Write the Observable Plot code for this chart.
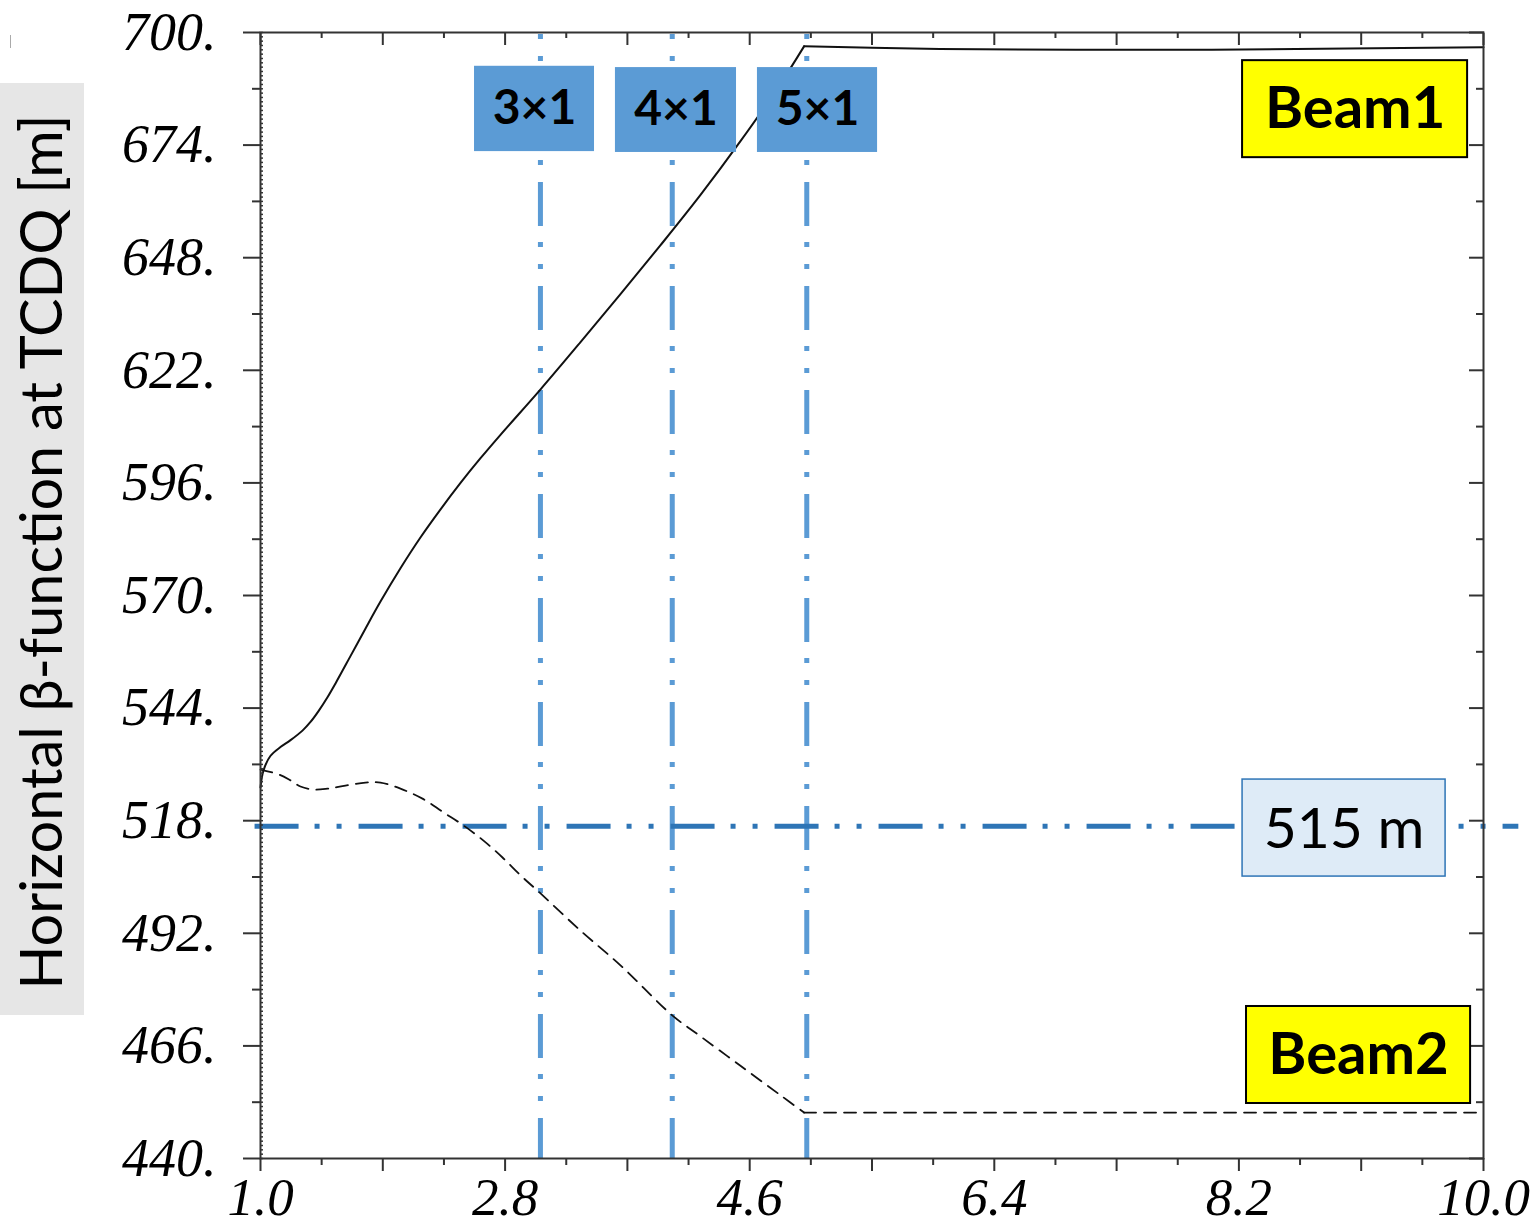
<!DOCTYPE html>
<html><head><meta charset="utf-8">
<script src="https://cdn.jsdelivr.net/npm/d3@7"></script>
<script src="https://cdn.jsdelivr.net/npm/@observablehq/plot@0.6"></script>
<style>body{margin:0;background:#fff}#chart svg{display:block}</style>
</head><body><div id="chart"></div>
<script>
// ---- data ----
const beam1RiseX = [1.000,1.022,1.074,1.147,1.221,1.309,1.368,1.427,1.493,1.552,1.662,1.773,1.883,2.030,2.177,2.325,2.472,2.619,2.766,3.061,3.355,3.649,3.944,4.238,4.532,4.827,5.000];
const beam1RiseY = [525.7,529.6,533.0,535.0,536.6,538.8,540.8,543.3,546.5,549.7,556.0,562.4,568.6,576.3,583.4,589.9,596.0,601.7,607.1,617.6,628.5,639.6,650.9,662.5,674.9,688.2,696.8];
const beam1FlatX = [5.0,5.5,6.0,7.0,8.0,9.0,10.0];
const beam1FlatY = [696.8,696.5,696.2,696.0,696.0,696.3,696.6];
const beam2FallX = [1.000,1.132,1.221,1.294,1.390,1.493,1.625,1.773,1.883,2.030,2.192,2.347,2.494,2.641,2.781,2.913,3.061,3.355,3.649,4.032,4.238,4.532,4.827,5.000];
const beam2FallY = [529.8,528.7,527.3,525.9,525.2,525.4,526.1,526.8,526.8,525.4,523.1,519.9,516.9,513.4,509.5,505.4,501.2,492.6,484.6,473.0,468.2,461.4,454.6,450.6];
const beam2FlatX = [5.0,10.0];
const beam2FlatY = [450.6,450.6];
const schemeX = [3.06, 4.03, 5.02];
const schemeLabels = ["3×1", "4×1", "5×1"];
const thresholdY = 516.7;
const thresholdLabel = "515 m";
const beamLabels = ["Beam1", "Beam2"];
const yTicks = d3.range(440, 701, 26);
const xTicks = [1.0, 2.8, 4.6, 6.4, 8.2, 10.0];
const yLabel = "Horizontal β-function at TCDQ [m]";

// ---- tables ----
const zip = (xs, ys) => xs.map((x, i) => ({x, y: ys[i]}));
const beam1Rise = zip(beam1RiseX, beam1RiseY), beam1Flat = zip(beam1FlatX, beam1FlatY);
const beam2Fall = zip(beam2FallX, beam2FallY), beam2Flat = zip(beam2FlatX, beam2FlatY);

// annotation boxes (data units)
const schemeBoxes = [
  {label: schemeLabels[0], x1: 2.575, x2: 3.458, y1: 672.5, y2: 692.2},
  {label: schemeLabels[1], x1: 3.612, x2: 4.503, y1: 672.3, y2: 691.9},
  {label: schemeLabels[2], x1: 4.657, x2: 5.541, y1: 672.3, y2: 691.9}
];
const beamBoxes = [
  {label: beamLabels[0], x1: 8.227, x2: 9.883, y1: 671.1, y2: 693.5},
  {label: beamLabels[1], x1: 8.256, x2: 9.905, y1: 452.7, y2: 475.1}
];
const thrBox = [{label: thresholdLabel, x1: 8.227, x2: 9.721, y1: 505.1, y2: 527.5}];
const cx = d => (d.x1 + d.x2) / 2, cy = d => (d.y1 + d.y2) / 2;

const majY = yTicks, halfY = d3.range(453, 700, 26), fineY = d3.range(440, 701, 1);
const majX = d3.range(0, 11).map(i => +(1 + 0.9 * i).toFixed(2));
const minX = d3.range(0, 10).map(i => +(1.45 + 0.9 * i).toFixed(2));
const axStroke = "#333";
const serif = {fontFamily: "'Liberation Serif', 'Times New Roman', serif", fontStyle: "italic", fontSize: 54};
const sans = "Lato, 'Open Sans', sans-serif";

const plot = Plot.plot({
  width: 1537, height: 1225,
  marginLeft: 260, marginRight: 54, marginTop: 32, marginBottom: 67,
  x: {domain: [1, 10]},
  y: {domain: [440, 700]},
  marks: [
    // reference lines
    Plot.ruleX(schemeX, {y1: 700, y2: 440, stroke: "#5b9bd5", strokeWidth: 5, strokeDasharray: "44 16 5 17 5 17", strokeDashoffset: 58}),
    Plot.ruleY([thresholdY], {x1: 0.96, x2: 10.26, stroke: "#2e75b6", strokeWidth: 5, strokeDasharray: "44 16 5 17 5 17"}),
    // curves
    Plot.line(beam1Rise, {x: "x", y: "y", stroke: "#111", strokeWidth: 2, curve: "catmull-rom"}),
    Plot.line(beam1Flat, {x: "x", y: "y", stroke: "#111", strokeWidth: 2}),
    Plot.line(beam2Fall, {x: "x", y: "y", stroke: "#111", strokeWidth: 1.8, strokeDasharray: "12 8", curve: "catmull-rom"}),
    Plot.line(beam2Flat, {x: "x", y: "y", stroke: "#111", strokeWidth: 1.8, strokeDasharray: "12 8"}),
    // frame + axes
    Plot.frame({stroke: axStroke, strokeWidth: 2}),
    Plot.axisY(majY, {anchor: "left", tickSize: 17, strokeWidth: 2, stroke: axStroke, fill: "none", label: null}),
    Plot.axisY(halfY, {anchor: "left", tickSize: 8, strokeWidth: 2, stroke: axStroke, fill: "none", label: null}),
    Plot.axisY(fineY, {anchor: "left", tickSize: -3, strokeWidth: 1.5, stroke: axStroke, fill: "none", label: null}),
    Plot.axisY(yTicks, {anchor: "left", tickSize: 0, tickPadding: 44, tickFormat: d => d + ".", fill: "#000", label: null, ...serif}),
    Plot.axisY(majY, {anchor: "right", tickSize: -15, strokeWidth: 2, stroke: axStroke, fill: "none", label: null}),
    Plot.axisY(halfY, {anchor: "right", tickSize: -8, strokeWidth: 2, stroke: axStroke, fill: "none", label: null}),
    Plot.axisX(majX, {anchor: "bottom", tickSize: 13, strokeWidth: 2, stroke: axStroke, fill: "none", label: null}),
    Plot.axisX(minX, {anchor: "bottom", tickSize: 7, strokeWidth: 2, stroke: axStroke, fill: "none", label: null}),
    Plot.axisX(xTicks, {anchor: "bottom", tickSize: 0, tickPadding: 19, tickFormat: d => d.toFixed(1), fill: "#000", label: null, ...serif, fontSize: 53}),
    Plot.axisX(majX, {anchor: "top", tickSize: -12, strokeWidth: 2, stroke: axStroke, fill: "none", label: null}),
    Plot.axisX(minX, {anchor: "top", tickSize: -5, strokeWidth: 2, stroke: axStroke, fill: "none", label: null}),
    // annotation boxes
    Plot.rect(schemeBoxes, {x1: "x1", x2: "x2", y1: "y1", y2: "y2", fill: "#5b9bd5"}),
    Plot.text(schemeBoxes, {x: cx, y: cy, text: "label", fontFamily: sans, fontWeight: "bold", fontSize: 48, fill: "#000"}),
    Plot.rect(beamBoxes, {x1: "x1", x2: "x2", y1: "y1", y2: "y2", fill: "#ffff00", stroke: "#000", strokeWidth: 2}),
    Plot.text(beamBoxes, {x: cx, y: cy, text: "label", fontFamily: sans, fontWeight: "bold", fontSize: 58, fill: "#000"}),
    Plot.rect(thrBox, {x1: "x1", x2: "x2", y1: "y1", y2: "y2", fill: "#deebf7", stroke: "#2e75b6", strokeWidth: 1.5}),
    Plot.text(thrBox, {x: cx, y: cy, text: "label", fontFamily: sans, fontSize: 57, fill: "#000", dy: 2})
  ]
});

// y-axis title in a grey band
const svg = d3.select(plot);
svg.append("rect").attr("x", 0).attr("y", 83).attr("width", 84).attr("height", 932).attr("fill", "#e6e6e6");
svg.append("text")
  .attr("transform", "translate(42,552) rotate(-90)")
  .attr("text-anchor", "middle").attr("dy", "0.35em")
  .attr("font-family", sans).attr("font-size", 58)
  .attr("textLength", 875).attr("lengthAdjust", "spacingAndGlyphs")
  .attr("fill", "#000")
  .text(yLabel);
svg.append("line").attr("x1", 10.5).attr("x2", 10.5).attr("y1", 35).attr("y2", 48).attr("stroke", "#aaa").attr("stroke-width", 1);

document.getElementById("chart").appendChild(plot);
</script>
</body></html>
